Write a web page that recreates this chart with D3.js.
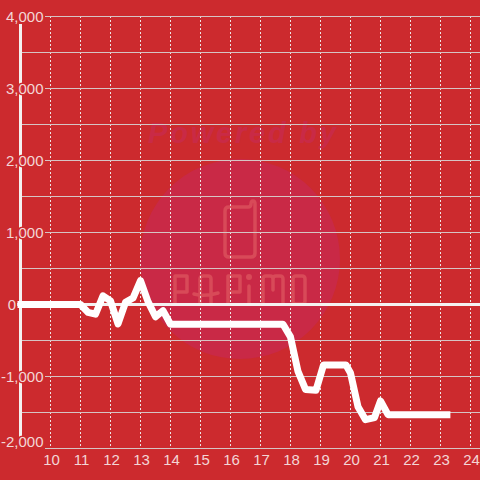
<!DOCTYPE html>
<html>
<head>
<meta charset="utf-8">
<script src="https://cdn.jsdelivr.net/npm/d3@7"></script>
<style>
    html, body { margin: 0; padding: 0; background: #cc2a2e; }
    svg { display: block; }
    text { font-family: "Liberation Sans", Arial, sans-serif; }
</style>
</head>
<body>
<svg id="chart" width="480" height="480"></svg>
<script>
// Values
const hours = [8.9, 10, 10.5, 11, 11.25, 11.5, 11.75, 12, 12.25, 12.5, 12.75, 13, 13.25, 13.5, 13.75, 14,
    15, 16, 17, 17.75, 18, 18.25, 18.5, 18.85, 19.1, 19.5, 19.85, 20, 20.25, 20.5, 20.8, 21, 21.25, 22, 23.33];
const values = [0, 0, 0, 0, -110, -135, 120, 50, -270, 30, 90, 330, 40, -170, -85, -275,
    -275, -275, -275, -275, -450, -930, -1180, -1190, -840, -840, -840, -950, -1420, -1600, -1570, -1340, -1530, -1530, -1530];
const yTicks = [4000, 3000, 2000, 1000, 0, -1000, -2000];
const yMinor = [3500, 2500, 1500, 500, -500, -1500];
const xTicks = [10, 11, 12, 13, 14, 15, 16, 17, 18, 19, 20, 21, 22, 23, 24];

const bg = "#cc2a2e";
const markColor = "#d84a58";
const labelColor = "#f3d6d6";
const svg = d3.select("#chart");

const x = d3.scaleLinear().domain([10, 24]).range([50.5, 470.5]);
const y = d3.scaleLinear().domain([4000, -2000]).range([16.5, 448.5]);

// Watermark behind the grid
const mark = svg.append("g");
mark.append("circle").attr("cx", 240).attr("cy", 259).attr("r", 100).attr("fill", "#c92946");
mark.append("text")
    .attr("x", 242).attr("y", 143)
    .attr("text-anchor", "middle")
    .attr("font-size", 29)
    .attr("font-weight", "bold")
    .attr("font-style", "italic")
    .attr("textLength", 188)
    .attr("fill", "#c92a46")
    .text("Powered by");

// phone outline and the logo letters
const logo = mark.append("g")
    .attr("fill", "none")
    .attr("stroke", markColor)
    .attr("stroke-width", 3.5)
    .attr("stroke-linecap", "round")
    .attr("stroke-linejoin", "round");
logo.append("path")
    .attr("d", "M229 207 H248 Q251 207 251 204 Q251 201 253 201 Q255 201 255 204 V253 Q255 257 251 257 H229 Q225 257 225 253 V211 Q225 207 229 207 Z");
const letters = [
    "M175 304 V276 H187 V292 H175",
    "M200 304 V279 Q200 276 203 276 H208 Q211 276 211 279 V304 M194 294 Q205 297 218 293",
    "M228 304 V276 H240 V292 H228",
    "M249 286 V304",
    "M263 304 V279 Q263 276 266 276 H270 Q273 276 273 279 V290 M273 279 Q273 276 276 276 H280 Q283 276 283 279 V304",
    "M296 276 H302 Q305 276 305 279 V301 Q305 304 302 304 H296 Q293 304 293 301 V279 Q293 276 296 276 Z"
];
logo.selectAll(".letter")
    .data(letters)
    .join("path")
    .attr("class", "letter")
    .attr("d", d => d);
mark.append("circle").attr("cx", 249).attr("cy", 277).attr("r", 3).attr("fill", markColor);

// Vertical dotted grid
svg.append("g").selectAll("line")
    .data(xTicks)
    .join("line")
    .attr("x1", d => x(d)).attr("x2", d => x(d))
    .attr("y1", 16).attr("y2", 448)
    .attr("stroke", "#eee4e4")
    .attr("stroke-width", 1)
    .attr("stroke-dasharray", "2,2");

// Horizontal grid
svg.append("g").selectAll("line")
    .data(yTicks.concat(yMinor).filter(d => d !== 0))
    .join("line")
    .attr("x1", d => yTicks.includes(d) ? 45 : 22).attr("x2", 480)
    .attr("y1", d => y(d)).attr("y2", d => y(d))
    .attr("stroke", "#d6c4c4")
    .attr("stroke-width", 1);

// Axis lines
svg.append("line")
    .attr("x1", 20.5).attr("x2", 20.5)
    .attr("y1", 24).attr("y2", 440)
    .attr("stroke", "#f4f1f1").attr("stroke-width", 3);
svg.append("line")
    .attr("x1", 17).attr("x2", 480)
    .attr("y1", y(0)).attr("y2", y(0))
    .attr("stroke", "#f4f1f1").attr("stroke-width", 3);

// Series
const line = d3.line().x((d, i) => x(hours[i])).y(d => y(d));
svg.append("path")
    .datum(values)
    .attr("d", line)
    .attr("fill", "none")
    .attr("stroke", "#ffffff")
    .attr("stroke-width", 7)
    .attr("stroke-linejoin", "round");

// Tick labels, the red halo cuts the axis line
svg.append("g").selectAll("text")
    .data(yTicks)
    .join("text")
    .attr("x", d => d === 0 ? 16 : 43.5)
    .attr("y", d => d === -2000 ? y(d) - 2 : y(d) + 5)
    .attr("text-anchor", "end")
    .attr("font-size", 15)
    .attr("fill", labelColor)
    .attr("stroke", bg)
    .attr("stroke-width", 3)
    .attr("paint-order", "stroke")
    .text(d => d3.format(",")(d).replace("−", "-"));

svg.append("g").selectAll("text")
    .data(xTicks)
    .join("text")
    .attr("x", d => x(d) + 1)
    .attr("y", 465)
    .attr("text-anchor", "middle")
    .attr("font-size", 15)
    .attr("fill", labelColor)
    .text(d => d);
</script>
</body>
</html>
